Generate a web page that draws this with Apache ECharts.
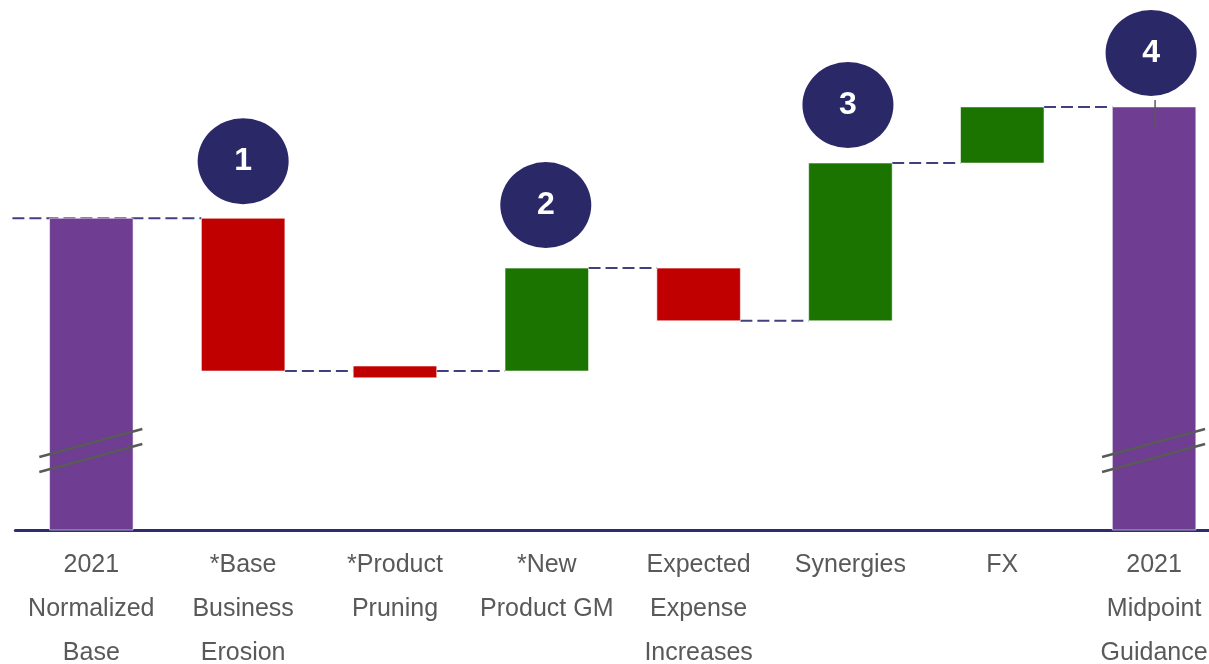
<!DOCTYPE html>
<html>
<head>
<meta charset="utf-8">
<script src="https://cdn.jsdelivr.net/npm/echarts@6/dist/echarts.min.js"></script>
<style>
  html, body { margin: 0; padding: 0; background: #ffffff; overflow: hidden; }
  #chart { width: 1230px; height: 664px; }
</style>
</head>
<body>
<div id="chart"></div>
<script>
// Bridge categories
const categories = [
  '2021\nNormalized\nBase',
  '*Base\nBusiness\nErosion',
  '*Product\nPruning',
  '*New\nProduct GM',
  'Expected\nExpense\nIncreases',
  'Synergies',
  'FX',
  '2021\nMidpoint\nGuidance'
];
// Each bar spans from its low value to its high value
const barLow  = [0,   51.0, 48.8, 51.0, 67.1, 67.1,  117.7, 0];
const barHigh = [100, 100,  52.6, 84.0, 84.0, 117.7, 135.7, 135.7];
const barKind = ['total', 'down', 'down', 'up', 'down', 'up', 'up', 'total'];
// Running level carried from each bar to the next one
const connectorLevels = [100, 51.0, 51.0, 84.0, 67.1, 117.7, 135.7];
// Numbered call-outs
const badgeCategories = [1, 3, 5, 7];
const badgeLabels = ['1', '2', '3', '4'];
// Bars drawn with a truncated (broken) axis
const breakCategories = [0, 7];

const colors = { total: '#6F3D92', down: '#C00000', up: '#1B7300' };
const badgeColor = '#2B2868';
const connectorColor = '#434081';
const badgeLift = [57, 63, 58, 54];
const badgeShift = [0, -1, -2.5, -3];
const barRatio = 0.55;
const fontFamily = '"Liberation Sans", Arial, sans-serif';

const chart = echarts.init(document.getElementById('chart'));

const barData = categories.map((c, i) => [i, barLow[i], barHigh[i]]);
const connectorData = connectorLevels.map((v, i) => [i, v]);
const badgeData = badgeCategories.map((c, k) => [c, barHigh[c], k]);
const breakData = breakCategories.map(c => [c, 25.5]);

chart.setOption({
  animation: false,
  backgroundColor: '#ffffff',
  grid: {
    left: 15.4, right: 0, top: 0, bottom: 134,
    containLabel: false,
    outerBoundsMode: 'none'
  },
  xAxis: {
    type: 'category',
    data: categories,
    boundaryGap: true,
    axisLine: { show: true, lineStyle: { color: '#2E2B74', width: 3 } },
    axisTick: { show: false },
    axisLabel: {
      interval: 0,
      margin: 13,
      color: '#595959',
      fontSize: 25,
      lineHeight: 44,
      fontFamily: fontFamily
    }
  },
  yAxis: {
    type: 'value',
    min: 0,
    max: 170,
    show: false,
    splitLine: { show: false }
  },
  series: [
    {
      // dashed connectors between consecutive bars
      type: 'custom',
      z: 1,
      data: connectorData,
      encode: { x: 0, y: 1 },
      renderItem: function (params, api) {
        const i = api.value(0);
        const lvl = api.value(1);
        const band = api.size([1, 0])[0];
        const w = band * barRatio;
        const a = api.coord([i, lvl]);
        const b = api.coord([i + 1, lvl]);
        const x0 = i === 0 ? a[0] - band / 2 - 3 : a[0] + w / 2;
        const x1 = b[0] - w / 2;
        return {
          type: 'line',
          shape: { x1: x0, y1: a[1], x2: x1, y2: a[1] },
          style: { stroke: connectorColor, lineWidth: 2, lineDash: [12, 5] }
        };
      }
    },
    {
      // waterfall bars
      type: 'custom',
      z: 2,
      data: barData,
      encode: { x: 0, y: [1, 2] },
      renderItem: function (params, api) {
        const i = api.value(0);
        const lo = api.coord([i, api.value(1)]);
        const hi = api.coord([i, api.value(2)]);
        const w = api.size([1, 0])[0] * barRatio;
        return {
          type: 'rect',
          shape: { x: lo[0] - w / 2, y: hi[1], width: w, height: lo[1] - hi[1] },
          style: {
            fill: colors[barKind[i]],
            stroke: 'rgba(255,255,255,0.55)',
            lineWidth: 1
          }
        };
      }
    },
    {
      // axis-break marks across the total bars
      type: 'custom',
      z: 3,
      data: breakData,
      encode: { x: 0, y: 1 },
      renderItem: function (params, api) {
        const p = api.coord([api.value(0), api.value(1)]);
        const st = { stroke: '#5A5A5A', lineWidth: 2.5 };
        return {
          type: 'group',
          children: [
            { type: 'line', shape: { x1: p[0] - 52, y1: p[1] + 6.5, x2: p[0] + 51, y2: p[1] - 21.5 }, style: st },
            { type: 'line', shape: { x1: p[0] - 52, y1: p[1] + 21.5, x2: p[0] + 51, y2: p[1] - 6.5 }, style: st }
          ]
        };
      }
    },
    {
      // numbered call-out badges
      type: 'custom',
      z: 4,
      data: badgeData,
      encode: { x: 0, y: 1 },
      renderItem: function (params, api) {
        const c = api.value(0);
        const k = api.value(2);
        const top = api.coord([c, api.value(1)]);
        const cx = top[0] + badgeShift[k];
        const cy = top[1] - badgeLift[k];
        const children = [];
        if (c === categories.length - 1) {
          children.push({
            type: 'line',
            shape: { x1: top[0] + 1, y1: top[1] - 7, x2: top[0] + 1, y2: top[1] + 20 },
            style: { stroke: '#595959', lineWidth: 1.5 }
          });
        }
        children.push({
          type: 'circle',
          x: cx, y: cy,
          scaleY: 86 / 91,
          shape: { cx: 0, cy: 0, r: 45.5 },
          style: { fill: badgeColor }
        });
        children.push({
          type: 'text',
          x: cx, y: cy,
          style: {
            text: badgeLabels[k],
            fill: '#ffffff',
            font: 'bold 32px ' + fontFamily,
            align: 'center',
            verticalAlign: 'middle'
          }
        });
        return { type: 'group', children: children };
      }
    }
  ]
});
</script>
</body>
</html>
